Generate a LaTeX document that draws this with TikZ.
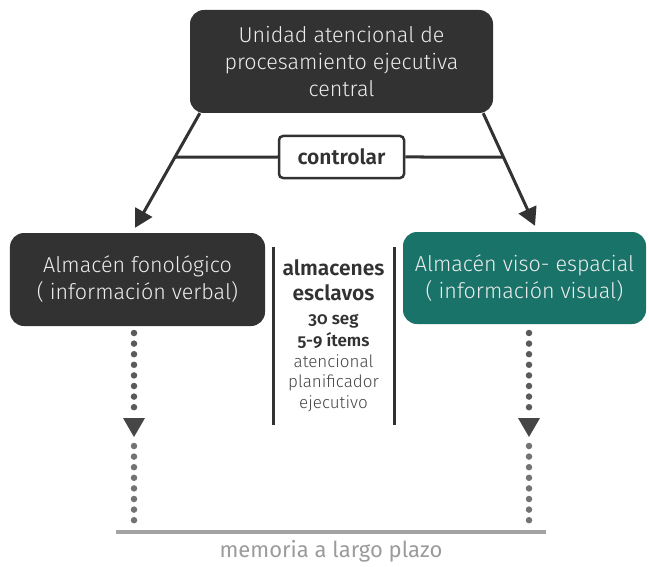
\documentclass[tikz,border=0pt]{standalone}
\usepackage{fontspec}
\setmainfont{Fira Sans}[UprightFont=* Light, BoldFont=* SemiBold]
\newfontfamily\medfont{Fira Sans}
\usepackage{tikz}
\usetikzlibrary{arrows.meta,positioning,calc}
\definecolor{BoxDark}{HTML}{323232}
\definecolor{BoxTeal}{HTML}{1A7369}
\definecolor{LineGray}{HTML}{A3A3A3}
\definecolor{DotGray}{HTML}{5A5A5A}

\begin{document}
\begin{tikzpicture}[
  x=1bp,y=-1bp,
  block/.style={rounded corners=14bp,align=center,text=white!93!black,
    font=\fontsize{21.5bp}{27bp}\selectfont,inner sep=0pt},
  arrow/.style={-{Triangle[length=18bp,width=19bp]},line width=3bp,BoxDark},
  bar/.style={line width=3bp,BoxDark},
  dotline/.style={line width=6.5bp,line cap=round,DotGray,dash pattern=on 0bp off 10.6bp}
]
\useasboundingbox (0,0) rectangle (649,567);
\node[block,fill=BoxDark,minimum width=303bp,minimum height=103bp] (cent) at (341.5,61.5)
  {Unidad atencional de\\procesamiento ejecutiva\\central};
\node[block,fill=BoxDark,minimum width=255bp,minimum height=93bp] (fono) at (137.5,279.5)
  {Almacén fonológico\\( información verbal)};
\node[block,fill=BoxTeal,minimum width=243bp,minimum height=92bp] (visu) at (524.5,278)
  {Almacén viso- espacial\\( información visual)};
\node[draw=BoxDark,line width=2.5bp,fill=white,rounded corners=4bp,minimum width=125bp,
  minimum height=42bp,font=\fontsize{21bp}{24bp}\selectfont\bfseries,text=BoxDark] (ctrl) at (341.5,157) {controlar};

\coordinate (la0) at ([xshift=10bp]cent.south west);
\coordinate (la1) at ([xshift=-2.5bp,yshift=5bp]fono.north);
\coordinate (ra0) at ([xshift=-10bp]cent.south east);
\coordinate (ra1) at ([xshift=10.5bp,yshift=6bp]visu.north);
\draw[arrow] (la0) -- (la1);
\draw[arrow] (ra0) -- (ra1);
\draw[line width=3bp,BoxDark] ($(la0)!0.383!(la1)$) -- (ctrl.west);
\draw[line width=3bp,BoxDark] (ctrl.east) -- ($(ra0)!0.389!(ra1)$);

\draw[bar] (273,247) -- (273,425);
\draw[bar] (394,247) -- (394,425);
\node[align=center,text=BoxDark,font=\fontsize{21bp}{25bp}\selectfont\bfseries] (escl) at (333.5,280) {almacenes\\esclavos};
\node[align=center,text=BoxDark,font=\fontsize{17bp}{22bp}\selectfont\bfseries] (dato) at (333.5,331)
  {\addfontfeature{Numbers=OldStyle}30 seg\\\addfontfeature{Numbers=OldStyle}5-9 ítems};
\node[align=center,text=BoxDark!90!white,font=\fontsize{17bp}{20.5bp}\selectfont] (rol) at (333.5,383) {atencional\\planificador\\ejecutivo};

\coordinate (lt) at (134,333);
\coordinate (rt) at (529,333);
\draw[dotline] (lt) -- ++(0,74.5);
\draw[dotline,DotGray!85!white] ([yshift=-113bp]lt) -- ++(0,74.5);
\draw[dotline] (rt) -- ++(0,74.5);
\draw[dotline,DotGray!85!white] ([yshift=-113bp]rt) -- ++(0,74.5);
\fill[BoxDark!90!white] ([xshift=-11bp,yshift=-85bp]lt) -- ++(22,0) -- ++(-11,19) -- cycle;
\fill[BoxDark!90!white] ([xshift=-11bp,yshift=-85bp]rt) -- ++(22,0) -- ++(-11,19) -- cycle;

\draw[line width=3.5bp,LineGray] (116,532) -- (546,532);
\node[text=LineGray!95!black,font=\medfont\fontsize{22bp}{24bp}\selectfont] (memo) at (331,551) {memoria a largo plazo};
\end{tikzpicture}
\end{document}
